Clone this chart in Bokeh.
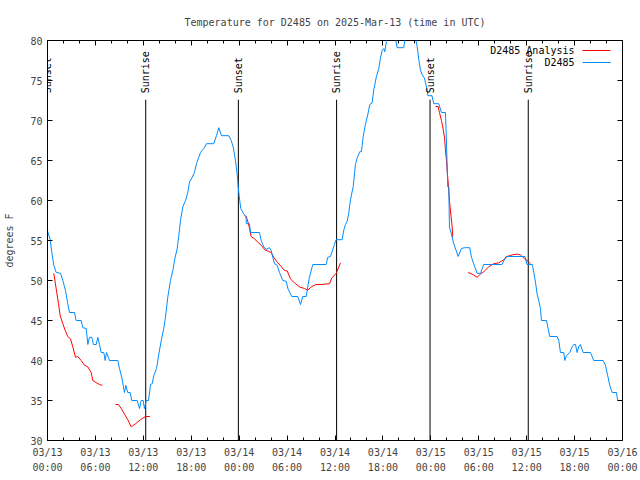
import numpy as np
from math import pi
from bokeh.plotting import figure
from bokeh.models import (Range1d, FixedTicker, DatetimeTickFormatter, DatetimeAxis,
                          LinearAxis, Label, BoxAnnotation)
from bokeh.embed import file_html
from bokeh.resources import INLINE

# ---------------- data ----------------
START = "2025-03-13T00:00"
nan = float("nan")

blue_hours = [0.0, 0.34, 0.54, 0.79, 1.09, 1.63, 1.92, 2.25, 2.54, 2.75,
              3.38, 3.59, 4.22, 4.42, 4.85, 5.05, 5.26, 5.55, 5.76, 6.10,
              6.30, 6.51, 6.72, 7.05, 7.22, 7.39, 7.76, 8.80, 9.01, 9.30,
              9.64, 9.80, 10.05, 10.35, 10.55, 11.23, 11.52, 11.73, 11.98, 12.14,
              12.36, 12.65, 12.90, 13.11, 13.31, 13.65, 13.94, 14.24, 14.56, 14.77,
              15.06, 15.40, 15.69, 15.94, 16.24, 16.44, 16.65, 16.94, 17.28, 17.57,
              17.78, 18.12, 18.40, 18.65, 18.94, 19.16, 19.57, 19.91, 20.82, 21.16,
              21.45, 21.79, 22.70, 23.00, 23.25, 23.54, 23.75, 23.88, 24.00, 24.20,
              24.58, 24.85, 24.90, 25.29, 25.42, 26.54, 26.76, 27.08, 27.38, 27.80,
              28.01, 28.21, 28.42, 28.76, 29.05, 29.46, 29.89, 30.09, 30.59, 31.34,
              31.68, 31.96, 32.39, 32.59, 32.80, 33.22, 34.89, 35.09, 35.43, 35.93,
              36.15, 36.90, 37.10, 37.31, 37.52, 37.72, 37.94, 38.28, 38.56, 38.77,
              39.10, 39.31, 39.53, 39.81, 40.10, 40.35, 40.65, 40.85, 41.19, 41.48,
              41.69, 41.91, 42.11, 42.23, 42.44, 42.69, 43.45, 43.78, 44.61, 44.89,
              45.95, 46.29, 46.49, 46.70, 46.92, 47.20, 47.54, 47.64, 48.14, 48.37,
              48.99, 49.33, 49.83, 49.92, 50.12, 50.25, 50.33, 50.58, 50.87, 51.17,
              51.42, 51.83, 52.25, 52.87, 53.09, 53.50, 53.80, 54.21, 54.63, 56.91,
              57.41, 59.79, 60.04, 60.72, 60.89, 61.10, 61.31, 61.51, 61.73, 61.85,
              62.48, 62.69, 62.89, 63.81, 64.02, 64.23, 64.64, 64.77, 64.98, 65.40,
              65.69, 65.90, 66.11, 66.32, 66.52, 66.73, 67.07, 67.98, 68.40, 69.57,
              69.86, 70.15, 70.40, 70.70, 71.24, 71.40, 72.0]
blue_temps = [56.2, 55.1, 53.5, 51.9, 51.0, 50.9, 50.0, 48.75, 47.1, 46.0,
              46.0, 45.0, 45.0, 44.1, 44.0, 42.0, 42.9, 42.9, 42.0, 42.0,
              42.9, 42.0, 41.0, 41.0, 40.0, 41.0, 40.0, 40.0, 39.0, 37.9,
              36.0, 36.9, 36.0, 36.0, 35.0, 35.0, 34.0, 35.0, 35.0, 34.0,
              35.0, 35.0, 37.0, 37.1, 38.1, 39.0, 40.8, 42.5, 44.0, 45.4,
              47.9, 50.0, 51.25, 52.7, 54.0, 55.6, 57.5, 59.2, 60.0, 61.0,
              62.3, 62.9, 63.5, 64.6, 65.4, 66.0, 66.5, 67.1, 67.1, 68.1,
              69.1, 68.1, 68.1, 67.5, 66.7, 65.0, 63.3, 61.7, 60.6, 59.0,
              58.3, 58.0, 57.1, 57.1, 56.0, 56.0, 55.0, 54.2, 53.9, 54.1,
              53.75, 52.9, 52.1, 51.9, 51.0, 50.0, 49.9, 49.0, 48.0, 48.0,
              47.0, 48.0, 48.0, 49.2, 50.4, 52.0, 52.0, 52.9, 53.0, 54.5,
              55.1, 55.1, 56.3, 57.0, 57.4, 58.4, 60.1, 61.75, 64.5, 65.3,
              66.1, 66.1, 68.0, 69.5, 70.7, 72.0, 72.2, 73.8, 75.5, 76.5,
              77.8, 78.8, 79.0, 78.6, 79.9, 81.0, 81.0, 79.1, 79.1, 81.0,
              81.0, 79.25, 77.6, 76.3, 75.7, 75.3, 73.8, 73.1, 73.1, 72.1,
              72.1, 71.0, 71.0, 68.5, 61.7, 61.7, 56.7, 55.8, 54.6, 53.75,
              53.0, 54.0, 54.1, 54.1, 52.9, 51.7, 50.9, 50.9, 52.0, 52.0,
              53.0, 53.0, 52.0, 52.0, 51.0, 49.8, 48.3, 47.5, 46.5, 45.0,
              45.0, 44.0, 43.0, 43.0, 42.5, 41.0, 41.0, 40.0, 40.6, 41.0,
              41.7, 42.0, 42.0, 41.0, 41.75, 42.0, 41.0, 41.0, 40.0, 40.0,
              39.4, 38.1, 36.9, 36.0, 36.0, 35.0, 35.0]

# analysis series (nan separates the gaps)
red_hours = [0.79, 0.96, 1.16, 1.38, 1.59, 1.92, 2.22, 2.54, 2.88, 3.17,
             3.51, 3.79, 4.22, 4.63, 5.05, 5.47, 5.67, 5.97, 6.51, 6.85, nan,
             8.51, 8.89, 9.23, 9.64, 10.05, 10.48, 11.02, 11.64, 12.27, 12.81, nan,
             24.67, 24.88, 25.17, 25.29, 25.50, 25.92, 26.33, 26.76, 27.26, 27.58,
             28.01, 28.33, 28.84, 29.26, 29.67, 30.01, 30.43, 30.93, 31.55, 32.18,
             32.59, 33.09, 33.64, 34.27, 35.31, 35.60, 36.15, 36.69, nan,
             48.58, 48.92, 49.08, 49.33, 49.49, 49.71, 49.83, 49.96, 50.08, 50.25,
             50.33, 50.50, 50.67, 50.75, nan,
             52.67, 53.17, 53.80, 54.21, 54.63, 55.25, 55.88, 56.51, 57.13, 57.56,
             58.19, 58.81, 59.22, 59.76, 60.19, 60.47]
red_temps = [50.9, 49.8, 48.5, 47.1, 45.6, 44.6, 43.75, 43.0, 42.7, 41.7,
             40.4, 40.5, 40.0, 39.4, 39.2, 38.5, 37.5, 37.3, 37.0, 36.9, nan,
             34.5, 34.5, 34.0, 33.3, 32.6, 31.7, 32.1, 32.6, 33.0, 33.0, nan,
             58.1, 58.0, 57.1, 56.5, 55.5, 55.2, 54.8, 54.4, 53.8, 53.7,
             53.5, 52.9, 52.2, 51.75, 51.25, 51.2, 50.2, 49.7, 49.2, 49.0,
             48.8, 49.25, 49.5, 49.5, 49.6, 50.3, 50.9, 52.2, nan,
             71.75, 71.75, 71.0, 70.0, 69.2, 67.9, 66.25, 65.0, 63.3, 61.25,
             60.0, 58.3, 56.7, 55.4, nan,
             51.0, 50.8, 50.4, 50.8, 51.1, 51.7, 52.1, 52.2, 52.6, 53.0,
             53.2, 53.3, 53.2, 52.7, 52.4, 52.1]

sun_hours = [0.0, 12.3, 23.9, 36.2, 47.9, 60.2]
sun_labels = ["Sunset", "Sunrise", "Sunset", "Sunrise", "Sunset", "Sunrise"]

major_tick_hours = list(range(0, 73, 6))
minor_tick_hours = list(range(0, 73, 2))
y_ticks = [30, 35, 40, 45, 50, 55, 60, 65, 70, 75, 80]

title_text = "Temperature for D2485 on 2025-Mar-13 (time in UTC)"
series_names = ["D2485 Analysis", "D2485"]

# ---------------- helpers / style ----------------
START_MS = float(np.datetime64(START, "ms").astype(np.int64))
HOUR_MS = 3600000.0


def to_ms(h):
    return START_MS + np.asarray(h, dtype=float) * HOUR_MS


FONT = "DejaVu Sans Mono"
FS = "10px"
RED = "#ff0000"
BLUE = "#008cff"

p = figure(frame_width=575, frame_height=400, x_axis_type="datetime",
           output_backend="svg", toolbar_location=None,
           x_range=Range1d(to_ms(0), to_ms(72)), y_range=Range1d(30, 80),
           min_border_left=47, min_border_right=16, min_border_top=40,
           min_border_bottom=38)
p.background_fill_color = "white"
p.border_fill_color = "white"
p.outline_line_color = "black"
p.outline_line_width = 1
p.xgrid.visible = False
p.ygrid.visible = False

p.title.text = title_text
p.title.text_font = FONT
p.title.text_font_size = FS
p.title.text_font_style = "normal"
p.title.align = "center"
p.title.standoff = 26

xticker = FixedTicker(ticks=list(to_ms(major_tick_hours)),
                      minor_ticks=list(to_ms(minor_tick_hours)))
fmt = "%m/%d\n%H:%M"
xfmt = DatetimeTickFormatter(microseconds=fmt, milliseconds=fmt, seconds=fmt,
                             minsec=fmt, minutes=fmt, hourmin=fmt, hours=fmt,
                             days=fmt, months=fmt, years=fmt)

xa = p.xaxis[0]
xa.ticker = xticker
xa.formatter = xfmt
ya = p.yaxis[0]
ya.ticker = FixedTicker(ticks=y_ticks)
ya.axis_label = "degrees F"
ya.axis_label_text_font = FONT
ya.axis_label_text_font_size = FS
ya.axis_label_text_font_style = "normal"
ya.axis_label_standoff = 12

for ax in (xa, ya):
    ax.major_label_text_font = FONT
    ax.major_label_text_font_size = FS
    ax.major_tick_in = 5
    ax.major_tick_out = 0
    ax.minor_tick_in = 3
    ax.minor_tick_out = 0
    ax.axis_line_color = "black"
    ax.major_tick_line_color = "black"
    ax.minor_tick_line_color = "black"
    ax.major_label_standoff = 5
xa.major_label_standoff = 6
xa.major_label_text_line_height = 1.4

# mirrored ticks on top and right (labels not drawn)
top = DatetimeAxis(ticker=xticker, formatter=xfmt, major_label_text_font_size="1px",
                   major_label_text_color=None,
                   major_tick_in=5, major_tick_out=0, minor_tick_in=3, minor_tick_out=0,
                   major_label_standoff=0, axis_line_color=None)
p.add_layout(top, "above")
right = LinearAxis(ticker=FixedTicker(ticks=y_ticks), major_label_text_font_size="1px",
                   major_label_text_color=None,
                   major_tick_in=5, major_tick_out=0, minor_tick_in=0, minor_tick_out=0,
                   major_label_standoff=0, axis_line_color=None)
p.add_layout(right, "right")

# sunrise / sunset markers
sun_ms = to_ms(sun_hours)
p.segment(x0=sun_ms, y0=30, x1=sun_ms, y1=72.6, line_color="black", line_width=1)
for t, lab in zip(sun_ms, sun_labels):
    p.add_layout(Label(x=float(t), y=73.4, text=lab, angle=pi / 2,
                       text_align="left", text_baseline="middle",
                       text_font=FONT, text_font_size=FS, text_color="black"))

# data lines
p.line(to_ms(red_hours), red_temps, line_color=RED, line_width=1)
p.line(to_ms(blue_hours), blue_temps, line_color=BLUE, line_width=1)

# legend (text on the left, sample line on the right)
for i, (name, col) in enumerate(zip(series_names, [RED, BLUE])):
    yy = 390 - 12 * i
    p.add_layout(Label(x=527, y=yy, x_units="screen", y_units="screen", text=name,
                       text_align="right", text_baseline="middle",
                       text_font=FONT, text_font_size=FS, text_color="black"))
    p.add_layout(BoxAnnotation(left=535, right=563, bottom=yy - 0.5, top=yy + 0.5,
                               left_units="screen", right_units="screen",
                               bottom_units="screen", top_units="screen",
                               fill_color=col, fill_alpha=1, line_color=None))

open("out.html", "w").write(file_html(p, INLINE))
